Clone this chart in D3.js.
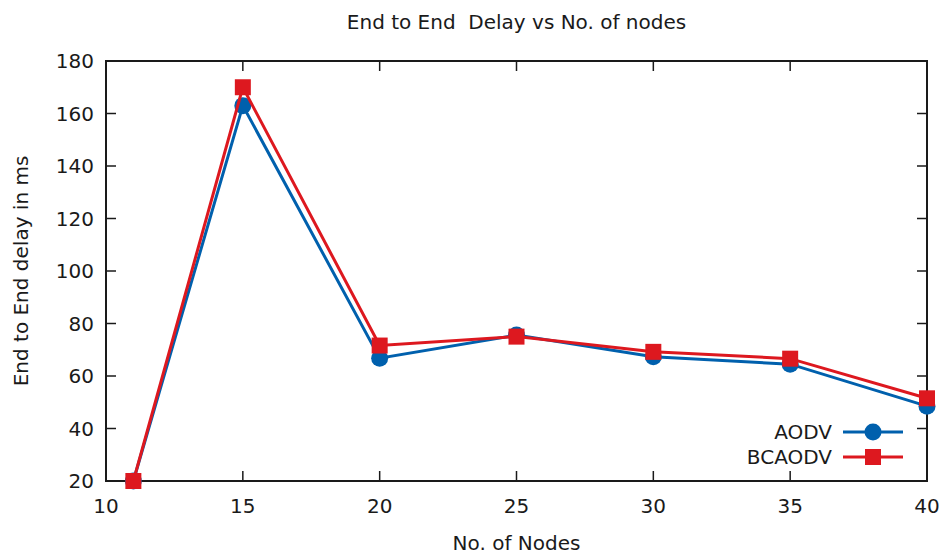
<!doctype html>
<html lang="en">
<head>
    <title>End to End Delay vs No. of nodes</title>
    <script src="https://d3js.org/d3.v7.min.js"></script>
    <style>
        body { margin: 0; background: white; }
        text { font-family: "DejaVu Sans", sans-serif; fill: #1a1a1a; }
    </style>
</head>
<body>
    <script>
       // data
       let nodes = [11, 15, 20, 25, 30, 35, 40];
       let aodv = [20, 163, 66.8, 75.6, 67.3, 64.5, 48.5];
       let bcaodv = [20, 170, 71.6, 75, 69.2, 66.6, 51.5];
       let xTicks = [10, 15, 20, 25, 30, 35, 40];
       let yTicks = [20, 40, 60, 80, 100, 120, 140, 160, 180];

       let width = 943, height = 553;
       let plotLeft = 106, plotRight = 927, plotTop = 61, plotBottom = 481;
       let fs = '20px';

       let svg = d3.select('body').append('svg')
                   .attr('width', width).attr('height', height);

       let x = d3.scaleLinear().domain([10, 40]).range([plotLeft, plotRight]);
       let y = d3.scaleLinear().domain([20, 180]).range([plotBottom, plotTop]);

       // ticks, drawn inward on all four sides like gnuplot
       let tickLen = 10;
       let ink = '#1a1a1a';
       xTicks.forEach(function (t) {
           svg.append('line').attr('x1', x(t)).attr('x2', x(t))
              .attr('y1', plotBottom).attr('y2', plotBottom - tickLen)
              .attr('stroke', ink).attr('stroke-width', 1.5);
           svg.append('line').attr('x1', x(t)).attr('x2', x(t))
              .attr('y1', plotTop).attr('y2', plotTop + tickLen)
              .attr('stroke', ink).attr('stroke-width', 1.5);
           svg.append('text').attr('x', x(t)).attr('y', 513)
              .attr('text-anchor', 'middle').style('font-size', fs).text(t);
       });
       yTicks.forEach(function (t) {
           svg.append('line').attr('x1', plotLeft).attr('x2', plotLeft + tickLen)
              .attr('y1', y(t)).attr('y2', y(t))
              .attr('stroke', ink).attr('stroke-width', 1.5);
           svg.append('line').attr('x1', plotRight).attr('x2', plotRight - tickLen)
              .attr('y1', y(t)).attr('y2', y(t))
              .attr('stroke', ink).attr('stroke-width', 1.5);
           svg.append('text').attr('x', plotLeft - 12).attr('y', y(t) + 7)
              .attr('text-anchor', 'end').style('font-size', fs).text(t);
       });

       svg.append('rect').attr('x', plotLeft).attr('y', plotTop)
          .attr('width', plotRight - plotLeft).attr('height', plotBottom - plotTop)
          .attr('fill', 'none').attr('stroke', ink).attr('stroke-width', 2);

       // titles
       svg.append('text').attr('x', (plotLeft + plotRight) / 2).attr('y', 29)
          .attr('text-anchor', 'middle').style('font-size', fs)
          .style('white-space', 'pre').text('End to End  Delay vs No. of nodes');
       svg.append('text').attr('x', (plotLeft + plotRight) / 2).attr('y', 550)
          .attr('text-anchor', 'middle').style('font-size', fs).text('No. of Nodes');
       svg.append('text').attr('transform', 'translate(28,' + ((plotTop + plotBottom) / 2) + ') rotate(-90)')
          .attr('text-anchor', 'middle').style('font-size', fs).text('End to End delay in ms');

       let line = d3.line().x(function (d) { return x(d[0]); }).y(function (d) { return y(d[1]); });
       let blue = '#0060ad', red = '#dd181f';

       function drawSeries(vals, color, shape) {
           let pts = nodes.map(function (n, i) { return [n, vals[i]]; });
           svg.append('path').attr('d', line(pts)).attr('fill', 'none')
              .attr('stroke', color).attr('stroke-width', 3);
           svg.selectAll(null).data(pts).enter().append('path')
              .attr('transform', function (d) { return 'translate(' + x(d[0]) + ',' + y(d[1]) + ')'; })
              .attr('d', shape).attr('fill', color);
       }

       let circle = d3.symbol().type(d3.symbolCircle).size(Math.PI * 8.5 * 8.5);
       let square = d3.symbol().type(d3.symbolSquare).size(16 * 16);

       drawSeries(aodv, blue, circle);
       drawSeries(bcaodv, red, square);

       // legend
       let legend = [['AODV', blue, circle], ['BCAODV', red, square]];
       legend.forEach(function (l, i) {
           let ly = 432 + i * 25;
           svg.append('text').attr('x', 832).attr('y', ly + 7)
              .attr('text-anchor', 'end').style('font-size', fs).text(l[0]);
           svg.append('line').attr('x1', 843).attr('x2', 903).attr('y1', ly).attr('y2', ly)
              .attr('stroke', l[1]).attr('stroke-width', 3);
           svg.append('path').attr('transform', 'translate(873,' + ly + ')')
              .attr('d', l[2]).attr('fill', l[1]);
       });
    </script>
</body>
</html>
